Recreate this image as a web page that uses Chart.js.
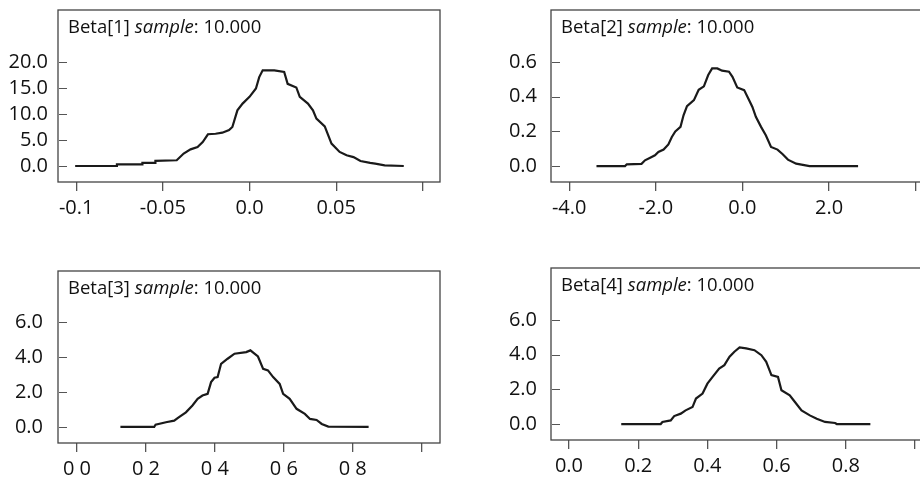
<!DOCTYPE html>
<html>
<head>
<meta charset="utf-8">
<script src="https://cdn.jsdelivr.net/npm/chart.js@4"></script>
<style>
  html, body { margin: 0; padding: 0; background: #fff; overflow: hidden; }
  body { width: 920px; height: 479px; position: relative; }
  canvas { position: absolute; }
</style>
</head>
<body>
<canvas id="p1" width="460" height="232" style="left:0px;top:0px"></canvas>
<canvas id="p2" width="460" height="232" style="left:493px;top:0px"></canvas>
<canvas id="p3" width="460" height="232" style="left:0px;top:261px"></canvas>
<canvas id="p4" width="460" height="232" style="left:493px;top:258px"></canvas>
<script>
// === Panel titles (plain / italic / plain) ===
const titles = [
  ["Beta[1] ", "sample", ": 10.000"],
  ["Beta[2] ", "sample", ": 10.000"],
  ["Beta[3] ", "sample", ": 10.000"],
  ["Beta[4] ", "sample", ": 10.000"],
];

// === Beta[1] density ===
const beta1X = [-0.1006, -0.0767, -0.0765, -0.062, -0.0618, -0.0545, -0.0543, -0.042, -0.038, -0.034, -0.030, -0.027, -0.024, -0.0196, -0.0157, -0.0118, -0.0099, -0.007, -0.004, 0.0, 0.0037, 0.0056, 0.0076, 0.0143, 0.020, 0.022, 0.027, 0.029, 0.0337, 0.0366, 0.0386, 0.0434, 0.0473, 0.052, 0.056, 0.060, 0.064, 0.0696, 0.0725, 0.078, 0.089];
const beta1Y = [0, 0, 0.3, 0.3, 0.6, 0.6, 1.0, 1.1, 2.4, 3.2, 3.65, 4.6, 6.1, 6.2, 6.4, 6.9, 7.5, 10.7, 12.0, 13.3, 14.9, 17.1, 18.4, 18.4, 18.1, 15.8, 15.1, 13.3, 12.0, 10.7, 9.1, 7.6, 4.3, 2.7, 2.05, 1.7, 0.96, 0.6, 0.45, 0.13, 0];
const beta1XTicks = [-0.1, -0.05, 0.0, 0.05, 0.1];
const beta1XLabels = ["-0.1", "-0.05", "0.0", "0.05", ""];
const beta1YTicks = [0, 5, 10, 15, 20];
const beta1YLabels = ["0.0", "5.0", "10.0", "15.0", "20.0"];

// === Beta[2] ===
const beta2X = [-3.37, -2.71, -2.67, -2.33, -2.25, -2.13, -2.02, -1.94, -1.82, -1.71, -1.63, -1.55, -1.43, -1.36, -1.28, -1.12, -1.01, -0.89, -0.79, -0.70, -0.58, -0.47, -0.31, -0.23, -0.12, 0.04, 0.155, 0.23, 0.31, 0.43, 0.54, 0.66, 0.81, 0.93, 1.05, 1.24, 1.55, 2.67];
const beta2Y = [0, 0, 0.01, 0.013, 0.033, 0.048, 0.062, 0.081, 0.095, 0.125, 0.168, 0.20, 0.226, 0.293, 0.345, 0.38, 0.44, 0.46, 0.525, 0.563, 0.563, 0.55, 0.544, 0.515, 0.453, 0.438, 0.38, 0.341, 0.284, 0.226, 0.178, 0.11, 0.095, 0.068, 0.037, 0.0135, 0, 0];
const beta2XTicks = [-4, -2, 0, 2, 4];
const beta2XLabels = ["-4.0", "-2.0", "0.0", "2.0", ""];
const beta2YTicks = [0, 0.2, 0.4, 0.6];
const beta2YLabels = ["0.0", "0.2", "0.4", "0.6"];

// === Beta[3] ===
const beta3X = [0.126, 0.224, 0.228, 0.258, 0.282, 0.296, 0.316, 0.335, 0.35, 0.364, 0.379, 0.389, 0.399, 0.408, 0.418, 0.437, 0.457, 0.491, 0.503, 0.525, 0.54, 0.554, 0.569, 0.588, 0.598, 0.617, 0.637, 0.661, 0.676, 0.695, 0.71, 0.729, 0.846];
const beta3Y = [0, 0, 0.13, 0.27, 0.36, 0.56, 0.84, 1.23, 1.61, 1.80, 1.90, 2.57, 2.82, 2.86, 3.62, 3.91, 4.20, 4.29, 4.39, 4.04, 3.33, 3.24, 2.86, 2.47, 1.90, 1.61, 1.04, 0.75, 0.46, 0.40, 0.17, 0.02, 0];
const beta3XTicks = [0, 0.2, 0.4, 0.6, 0.8, 1.0];
const beta3XLabels = ["0 0", "0 2", "0 4", "0 6", "0 8", ""];
const beta3YTicks = [0, 2, 4, 6];
const beta3YLabels = ["0.0", "2.0", "4.0", "6.0"];

// === Beta[4] ===
const beta4X = [0.151, 0.265, 0.27, 0.294, 0.304, 0.323, 0.337, 0.357, 0.367, 0.386, 0.40, 0.415, 0.434, 0.449, 0.464, 0.478, 0.493, 0.512, 0.536, 0.556, 0.57, 0.585, 0.604, 0.614, 0.638, 0.653, 0.672, 0.696, 0.716, 0.74, 0.769, 0.774, 0.871];
const beta4Y = [0, 0, 0.12, 0.21, 0.46, 0.60, 0.79, 0.98, 1.47, 1.76, 2.33, 2.72, 3.20, 3.40, 3.88, 4.17, 4.42, 4.36, 4.26, 3.97, 3.59, 2.82, 2.72, 1.95, 1.66, 1.27, 0.79, 0.50, 0.31, 0.12, 0.06, 0, 0];
const beta4XTicks = [0, 0.2, 0.4, 0.6, 0.8, 1.0];
const beta4XLabels = ["0.0", "0.2", "0.4", "0.6", "0.8", ""];
const beta4YTicks = [0, 2, 4, 6];
const beta4YLabels = ["0.0", "2.0", "4.0", "6.0"];

const FONT = "'Open Sans', 'Noto Sans', sans-serif";

// === Box, inward y ticks and mixed-style title ===
const panelDecor = {
  id: "panelDecor",
  afterDraw(chart, args, opts) {
    const { ctx, chartArea: a } = chart;
    const y = chart.scales.y;
    ctx.save();
    ctx.strokeStyle = "#444";
    ctx.lineWidth = 1.3;
    ctx.strokeRect(a.left, a.top, a.right - a.left, a.bottom - a.top);
    ctx.beginPath();
    y.ticks.forEach((t) => {
      const py = Math.round(y.getPixelForValue(t.value)) + 0.5;
      ctx.moveTo(a.left + 1, py);
      ctx.lineTo(a.left + 9, py);
    });
    ctx.lineWidth = 1;
    ctx.strokeStyle = "#555";
    ctx.stroke();

    // title
    let x = a.left + 10;
    const ty = a.top + 18;
    ctx.fillStyle = "#111";
    ctx.textBaseline = "middle";
    opts.parts.forEach((p, i) => {
      ctx.font = (i === 1 ? "italic " : "") + "18.5px " + FONT;
      ctx.fillText(p, x, ty);
      x += ctx.measureText(p).width;
    });
    ctx.restore();
  },
};

function makePanel(id, xs, ys, xRange, yRange, xTicks, xLabels, yTicks, yLabels, title, yPad) {
  const pts = xs.map((x, i) => ({ x, y: ys[i] }));
  new Chart(document.getElementById(id), {
    type: "line",
    data: {
      datasets: [
        {
          data: pts,
          borderColor: "#1a1a1a",
          borderWidth: 2.2,
          pointRadius: 0,
          tension: 0,
          fill: false,
        },
      ],
    },
    options: {
      responsive: false,
      animation: false,
      devicePixelRatio: 1,
      layout: { padding: { top: 10, right: 20, left: 0, bottom: 0 } },
      plugins: {
        legend: { display: false },
        tooltip: { enabled: false },
        panelDecor: { parts: title },
      },
      scales: {
        x: {
          type: "linear",
          min: xRange[0],
          max: xRange[1],
          afterBuildTicks: (s) => { s.ticks = xTicks.map((v) => ({ value: v })); },
          afterFit: (s) => { s.height = 50; s.paddingLeft = 0; s.paddingRight = 0; },
          ticks: {
            autoSkip: false,
            maxRotation: 0,
            padding: 5,
            color: "#111",
            font: { family: FONT, size: 20 },
            callback: (v, i) => xLabels[i],
          },
          grid: { drawOnChartArea: false, drawTicks: true, tickLength: 9, color: "#555", lineWidth: 1.3 },
          border: { display: false },
        },
        y: {
          min: yRange[0],
          max: yRange[1],
          afterBuildTicks: (s) => { s.ticks = yTicks.map((v) => ({ value: v })); },
          afterFit: (s) => { s.width = 58; s.paddingTop = 0; s.paddingBottom = 0; },
          ticks: {
            padding: yPad,
            color: "#111",
            font: { family: FONT, size: 20 },
            callback: (v, i) => yLabels[i],
          },
          grid: { drawOnChartArea: false, drawTicks: false },
          border: { display: false },
        },
      },
    },
    plugins: [panelDecor],
  });
}

makePanel("p1", beta1X, beta1Y, [-0.1105, 0.1099], [-3.08, 30], beta1XTicks, beta1XLabels, beta1YTicks, beta1YLabels, titles[0], 10);
makePanel("p2", beta2X, beta2Y, [-4.42, 4.4], [-0.092, 0.9], beta2XTicks, beta2XLabels, beta2YTicks, beta2YLabels, titles[1], 14);
makePanel("p3", beta3X, beta3Y, [-0.055, 1.053], [-0.92, 8.94], beta3XTicks, beta3XLabels, beta3YTicks, beta3YLabels, titles[2], 15);
makePanel("p4", beta4X, beta4Y, [-0.052, 1.052], [-0.92, 9.0], beta4XTicks, beta4XLabels, beta4YTicks, beta4YLabels, titles[3], 14);
</script>
</body>
</html>
